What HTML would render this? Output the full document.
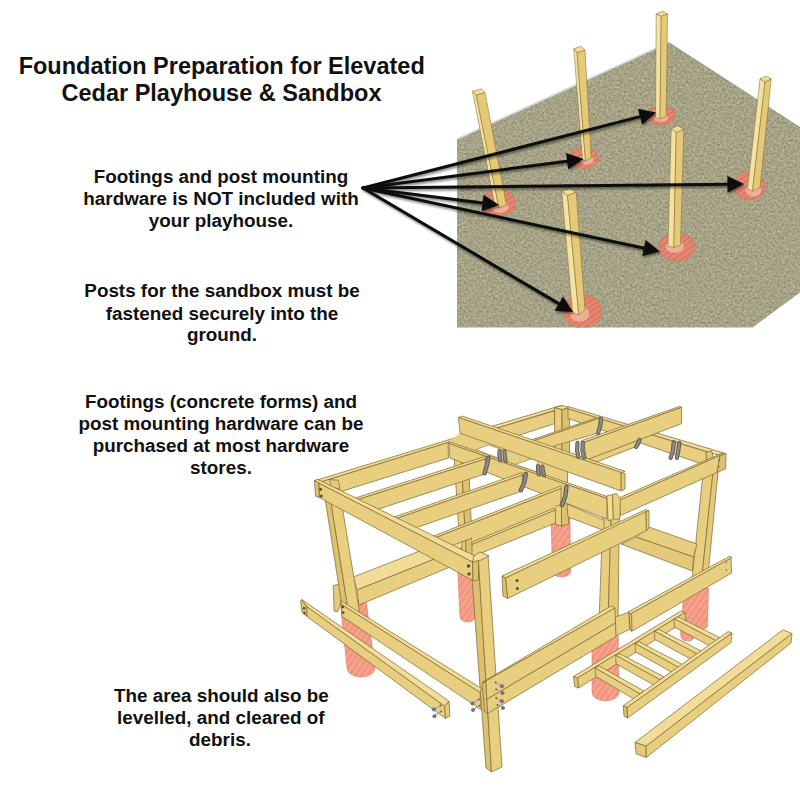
<!DOCTYPE html>
<html lang="en">
<head>
<meta charset="utf-8">
<title>Foundation Preparation for Elevated Cedar Playhouse &amp; Sandbox</title>
<style>
html,body{margin:0;padding:0;background:#fff;}
body{width:800px;height:800px;overflow:hidden;position:relative;font-family:"Liberation Sans",Arial,sans-serif;}
svg{position:absolute;left:0;top:0;display:block}
text{font-family:"Liberation Sans",Arial,sans-serif;font-weight:bold;fill:#111;}
.t{font-size:23.5px}
.b{font-size:18.85px}
</style>
</head>
<body>
<svg width="800" height="800" viewBox="0 0 800 800">
<defs>
<filter id="grain" x="0" y="0" width="100%" height="100%" color-interpolation-filters="sRGB">
<feTurbulence type="fractalNoise" baseFrequency="0.45" numOctaves="2" seed="7" result="n"/>
<feColorMatrix in="n" type="matrix" values="0.32 0 0 0 0.49  0.32 0 0 0 0.475  0.29 0 0 0 0.38  0 0 0 0 1" result="c"/>
<feComposite in="c" in2="SourceGraphic" operator="in"/>
</filter>
<pattern id="hatch" width="5" height="5" patternUnits="userSpaceOnUse" patternTransform="rotate(-55)">
<rect width="5" height="5" fill="#f2957e"/>
<rect width="5" height="1.4" fill="#f6ad9a"/>
</pattern>
<pattern id="hatch2" width="4.5" height="4.5" patternUnits="userSpaceOnUse" patternTransform="rotate(-35)">
<rect width="4.5" height="4.5" fill="#e48670"/>
<rect width="4.5" height="0.9" fill="#cc705b"/>
</pattern>
<clipPath id="gclip"><polygon points="457,139 668.7,42.5 800,127.5 800,292.5 752.5,327.5 457,327.5"/></clipPath>
<filter id="sh" x="-5%" y="-20%" width="110%" height="140%">
<feGaussianBlur in="SourceAlpha" stdDeviation="1.2"/>
<feOffset dx="0.5" dy="2"/>
<feComponentTransfer><feFuncA type="linear" slope="0.45"/></feComponentTransfer>
<feMerge><feMergeNode/><feMergeNode in="SourceGraphic"/></feMerge>
</filter>
</defs>
<polygon points="457,139 668.7,42.5 800,127.5 800,292.5 752.5,327.5 457,327.5" fill="#a6a283" filter="url(#grain)"/>
<polyline points="457,139 668.7,42.5" fill="none" stroke="#d6d6dc" stroke-width="1.6"/>
<polyline points="668.7,42.5 800,127.5" fill="none" stroke="#8f8b70" stroke-width="0.8"/>
<ellipse cx="661" cy="115.5" rx="14" ry="9.5" fill="url(#hatch2)" stroke="#d07560" stroke-width="0.7" clip-path="url(#gclip)"/>
<ellipse cx="661" cy="117.75" rx="7.0" ry="4.275" fill="#f4b8a6" opacity="0.8"/>
<polygon points="656.2,13.8 661.2,16.2 660.0,118.8 655.5,117.5" fill="#f3e2a2" stroke="#7d6630" stroke-width="0.5" stroke-linejoin="round" />
<polygon points="661.2,16.2 667.5,13.8 666.2,116.2 660.0,118.8" fill="#e6c976" stroke="#7d6630" stroke-width="0.5" stroke-linejoin="round" />
<polygon points="656.2,13.8 662.5,11.2 667.5,13.8 661.2,16.2" fill="#f0dd98" stroke="#7d6630" stroke-width="0.5" stroke-linejoin="round" />
<ellipse cx="584" cy="158" rx="14.5" ry="10.5" fill="url(#hatch2)" stroke="#d07560" stroke-width="0.7" clip-path="url(#gclip)"/>
<ellipse cx="586.5" cy="160" rx="7.25" ry="4.7250000000000005" fill="#f4b8a6" opacity="0.8"/>
<polygon points="573.8,48.8 577.0,52.5 585.5,161.0 582.5,160.0" fill="#f3e2a2" stroke="#7d6630" stroke-width="0.5" stroke-linejoin="round" />
<polygon points="577.0,52.5 585.0,50.0 591.2,158.0 585.5,161.0" fill="#e6c976" stroke="#7d6630" stroke-width="0.5" stroke-linejoin="round" />
<polygon points="573.8,48.8 581.2,46.2 585.0,50.0 577.0,52.5" fill="#f0dd98" stroke="#7d6630" stroke-width="0.5" stroke-linejoin="round" />
<ellipse cx="749.5" cy="186" rx="15.5" ry="14" fill="url(#hatch2)" stroke="#d07560" stroke-width="0.7" clip-path="url(#gclip)"/>
<ellipse cx="753.5" cy="190.25" rx="7.75" ry="6.3" fill="#f4b8a6" opacity="0.8"/>
<polygon points="760.0,78.8 765.0,82.0 752.5,191.2 747.5,188.8" fill="#f3e2a2" stroke="#7d6630" stroke-width="0.5" stroke-linejoin="round" />
<polygon points="765.0,82.0 771.2,78.8 760.0,187.5 752.5,191.2" fill="#e6c976" stroke="#7d6630" stroke-width="0.5" stroke-linejoin="round" />
<polygon points="760.0,78.8 766.2,76.2 771.2,78.8 765.0,82.0" fill="#f0dd98" stroke="#7d6630" stroke-width="0.5" stroke-linejoin="round" />
<ellipse cx="499" cy="203" rx="17" ry="13" fill="url(#hatch2)" stroke="#d07560" stroke-width="0.7" clip-path="url(#gclip)"/>
<ellipse cx="500" cy="207" rx="8.5" ry="5.8500000000000005" fill="#f4b8a6" opacity="0.8"/>
<polygon points="472.5,91.2 476.2,95.0 499.0,208.0 495.0,206.0" fill="#f3e2a2" stroke="#7d6630" stroke-width="0.5" stroke-linejoin="round" />
<polygon points="476.2,95.0 485.0,92.5 506.5,205.0 499.0,208.0" fill="#e6c976" stroke="#7d6630" stroke-width="0.5" stroke-linejoin="round" />
<polygon points="472.5,91.2 481.2,88.8 485.0,92.5 476.2,95.0" fill="#f0dd98" stroke="#7d6630" stroke-width="0.5" stroke-linejoin="round" />
<ellipse cx="677" cy="247" rx="18" ry="14" fill="url(#hatch2)" stroke="#d07560" stroke-width="0.7" clip-path="url(#gclip)"/>
<ellipse cx="674.75" cy="246.5" rx="9.0" ry="6.3" fill="#f4b8a6" opacity="0.8"/>
<polygon points="671.2,128.8 676.2,132.5 673.8,247.5 668.0,246.0" fill="#f3e2a2" stroke="#7d6630" stroke-width="0.5" stroke-linejoin="round" />
<polygon points="676.2,132.5 683.8,129.2 680.5,245.0 673.8,247.5" fill="#e6c976" stroke="#7d6630" stroke-width="0.5" stroke-linejoin="round" />
<polygon points="671.2,128.8 677.5,125.8 683.8,129.2 676.2,132.5" fill="#f0dd98" stroke="#7d6630" stroke-width="0.5" stroke-linejoin="round" />
<ellipse cx="582.8" cy="311.5" rx="19" ry="17" fill="url(#hatch2)" stroke="#d07560" stroke-width="0.7" clip-path="url(#gclip)"/>
<ellipse cx="579.75" cy="314" rx="9.5" ry="7.65" fill="#f4b8a6" opacity="0.8"/>
<polygon points="561.8,191.2 567.5,195.5 578.8,315.0 572.5,312.5" fill="#f3e2a2" stroke="#7d6630" stroke-width="0.5" stroke-linejoin="round" />
<polygon points="567.5,195.5 576.2,192.0 585.0,310.0 578.8,315.0" fill="#e6c976" stroke="#7d6630" stroke-width="0.5" stroke-linejoin="round" />
<polygon points="561.8,191.2 570.0,188.8 576.2,192.0 567.5,195.5" fill="#f0dd98" stroke="#7d6630" stroke-width="0.5" stroke-linejoin="round" />
<g filter="url(#sh)">
<line x1="363.0" y1="188.0" x2="642.0" y2="116.1" stroke="#0a0a0a" stroke-width="3" stroke-linecap="round"/>
<polygon points="656.0,112.5 642.1,124.6 638.0,108.7" fill="#0a0a0a"/>
<line x1="363.0" y1="188.0" x2="569.1" y2="160.9" stroke="#0a0a0a" stroke-width="3" stroke-linecap="round"/>
<polygon points="583.5,159.0 568.2,169.3 566.1,153.0" fill="#0a0a0a"/>
<line x1="363.0" y1="188.0" x2="729.5" y2="184.2" stroke="#0a0a0a" stroke-width="3" stroke-linecap="round"/>
<polygon points="744.0,184.0 727.6,192.4 727.4,176.0" fill="#0a0a0a"/>
<line x1="363.0" y1="188.0" x2="484.6" y2="203.2" stroke="#0a0a0a" stroke-width="3" stroke-linecap="round"/>
<polygon points="499.0,205.0 481.6,211.1 483.6,194.8" fill="#0a0a0a"/>
<line x1="363.0" y1="188.0" x2="645.8" y2="248.5" stroke="#0a0a0a" stroke-width="3" stroke-linecap="round"/>
<polygon points="660.0,251.5 642.2,256.1 645.6,240.0" fill="#0a0a0a"/>
<line x1="363.0" y1="188.0" x2="560.5" y2="304.6" stroke="#0a0a0a" stroke-width="3" stroke-linecap="round"/>
<polygon points="573.0,312.0 554.6,310.7 563.0,296.5" fill="#0a0a0a"/>
</g>
<path d="M340.0,600.0 L347.0,668.0 A14.0,9.0 0 0 0 375.0,668.0 L366.0,600.0 Z" fill="url(#hatch)" stroke="#df7661" stroke-width="0.6"/>
<path d="M457.5,565.0 L460.0,617.0 A7.5,5.0 0 0 0 475.0,617.0 L472.5,565.0 Z" fill="url(#hatch)" stroke="#df7661" stroke-width="0.6"/>
<path d="M551.0,518.0 L552.5,572.0 A9.0,5.0 0 0 0 570.5,572.0 L570.0,518.0 Z" fill="url(#hatch)" stroke="#df7661" stroke-width="0.6"/>
<path d="M592.0,625.0 L592.0,692.0 A13.5,9.0 0 0 0 619.0,692.0 L618.0,625.0 Z" fill="url(#hatch)" stroke="#df7661" stroke-width="0.6"/>
<path d="M683.5,588.0 L682.0,624.0 A12.8,6.0 0 0 0 707.5,626.0 L708.5,588.0 Z" fill="url(#hatch)" stroke="#df7661" stroke-width="0.6"/>
<path d="M680.0,625.0 L681.0,637.0 A6.5,4.0 0 0 0 694.0,637.0 L693.0,625.0 Z" fill="url(#hatch)" stroke="#df7661" stroke-width="0.6"/>
<polygon points="703.2,471.5 712.8,474.0 701.0,585.0 691.4,585.0" fill="#e8cf80" stroke="#7d6630" stroke-width="0.7" stroke-linejoin="round" />
<polygon points="712.8,474.0 718.2,470.5 707.0,585.0 701.0,585.0" fill="#e3c979" stroke="#7d6630" stroke-width="0.7" stroke-linejoin="round" />
<polygon points="649.0,527.0 697.0,544.0 693.6,557.0 636.0,537.0" fill="#e8cf80" stroke="#7d6630" stroke-width="0.7" stroke-linejoin="round" />
<polygon points="636.0,537.0 693.6,557.0 692.4,571.0 621.0,544.0" fill="#e3c979" stroke="#7d6630" stroke-width="0.7" stroke-linejoin="round" />
<polygon points="490.8,426.6 560.8,405.6 565.1,407.0 496.0,428.4" fill="#f1dd97" stroke="#7d6630" stroke-width="0.7" stroke-linejoin="round" />
<polygon points="496.0,428.4 554.6,410.9 554.6,423.6 517.0,435.9 496.0,435.9" fill="#e8cf80" stroke="#7d6630" stroke-width="0.7" stroke-linejoin="round" />
<polygon points="554.6,407.4 562.0,409.6 562.0,452.5 554.6,450.8" fill="#e8cf80" stroke="#7d6630" stroke-width="0.7" stroke-linejoin="round" />
<polygon points="562.0,409.6 569.5,407.4 569.5,452.5 562.0,452.5" fill="#dcc16f" stroke="#7d6630" stroke-width="0.7" stroke-linejoin="round" />
<polygon points="554.6,407.4 562.1,405.6 569.5,407.4 562.0,409.6" fill="#f1dd97" stroke="#7d6630" stroke-width="0.7" stroke-linejoin="round" />
<polygon points="568.0,406.5 724.0,453.0 718.5,455.2 568.0,408.8" fill="#f1dd97" stroke="#7d6630" stroke-width="0.7" stroke-linejoin="round" />
<polygon points="568.0,408.8 707.2,452.0 705.0,465.0 568.0,418.4" fill="#e8cf80" stroke="#7d6630" stroke-width="0.7" stroke-linejoin="round" />
<polygon points="705.9,452.5 711.6,450.8 713.4,457.8 706.9,460.4" fill="#e3c979" stroke="#7d6630" stroke-width="0.7" stroke-linejoin="round" />
<polygon points="529.2,440.6 600.0,416.6 599.4,418.2 530.0,442.0" fill="#f1dd97" stroke="#7d6630" stroke-width="0.7" stroke-linejoin="round" />
<polygon points="530.0,442.0 599.4,418.2 598.0,433.0 538.0,450.8" fill="#e8cf80" stroke="#7d6630" stroke-width="0.7" stroke-linejoin="round" />
<polygon points="586.2,459.5 637.0,440.6 637.9,445.9 597.6,461.6" fill="#e8cf80" stroke="#7d6630" stroke-width="0.7" stroke-linejoin="round" />
<polygon points="581.9,440.6 679.9,406.3 681.6,407.4 583.6,442.5" fill="#f1dd97" stroke="#7d6630" stroke-width="0.7" stroke-linejoin="round" />
<polygon points="583.6,442.5 681.6,407.4 681.6,423.6 586.6,459.9" fill="#e8cf80" stroke="#7d6630" stroke-width="0.7" stroke-linejoin="round" />
<polygon points="617.5,498.5 722.5,453.0 726.0,453.8 720.0,455.5 619.0,500.5" fill="#f1dd97" stroke="#7d6630" stroke-width="0.7" stroke-linejoin="round" />
<polygon points="619.0,500.5 720.0,455.5 717.0,472.5 620.5,515.5" fill="#e8cf80" stroke="#7d6630" stroke-width="0.7" stroke-linejoin="round" />
<polygon points="720.0,455.5 726.0,453.8 725.6,468.8 717.0,472.5" fill="#dcc16f" stroke="#7d6630" stroke-width="0.7" stroke-linejoin="round" />
<circle cx="719.2" cy="460.0" r="0.8" fill="#6b5a3a"/>
<circle cx="718.8" cy="467.0" r="0.8" fill="#6b5a3a"/>
<polygon points="453.0,440.0 460.3,440.0 467.2,572.0 461.5,572.0" fill="#e8cf80" stroke="#7d6630" stroke-width="0.7" stroke-linejoin="round" />
<polygon points="460.3,440.0 467.5,440.0 473.5,572.0 467.2,572.0" fill="#dcc16f" stroke="#7d6630" stroke-width="0.7" stroke-linejoin="round" />
<polygon points="554.6,490.0 561.5,492.0 561.5,526.0 555.0,524.0" fill="#e8cf80" stroke="#7d6630" stroke-width="0.7" stroke-linejoin="round" />
<polygon points="561.5,492.0 569.5,490.0 568.5,524.0 561.5,526.0" fill="#dcc16f" stroke="#7d6630" stroke-width="0.7" stroke-linejoin="round" />
<polygon points="603.5,500.0 611.5,502.0 608.0,625.0 599.0,622.0" fill="#e8cf80" stroke="#7d6630" stroke-width="0.7" stroke-linejoin="round" />
<polygon points="611.5,502.0 619.5,500.0 618.0,625.0 608.0,625.0" fill="#e3c979" stroke="#7d6630" stroke-width="0.7" stroke-linejoin="round" />
<polygon points="333.2,585.6 341.1,583.4 342.0,598.8 337.6,611.9 334.1,611.0" fill="#e3c979" stroke="#7d6630" stroke-width="0.7" stroke-linejoin="round" />
<polygon points="353.4,577.0 462.0,534.5 462.0,548.0 357.0,590.0" fill="#f1dd97" stroke="#7d6630" stroke-width="0.7" stroke-linejoin="round" />
<polygon points="357.0,590.0 462.0,548.0 462.0,562.0 359.0,605.0" fill="#e8cf80" stroke="#7d6630" stroke-width="0.7" stroke-linejoin="round" />
<polygon points="325.2,499.5 331.0,502.6 347.5,606.0 341.5,603.0" fill="#dcc16f" stroke="#7d6630" stroke-width="0.7" stroke-linejoin="round" />
<polygon points="331.0,502.6 342.7,509.5 360.0,615.0 347.5,606.0" fill="#e8cf80" stroke="#7d6630" stroke-width="0.7" stroke-linejoin="round" />
<polygon points="315.0,480.6 461.0,436.0 462.5,438.0 319.0,482.5" fill="#f1dd97" stroke="#7d6630" stroke-width="0.7" stroke-linejoin="round" />
<polygon points="319.0,482.5 448.0,442.5 448.5,458.0 343.8,490.6 325.0,497.0" fill="#e8cf80" stroke="#7d6630" stroke-width="0.7" stroke-linejoin="round" />
<polygon points="329.5,479.5 338.5,480.3 340.0,489.0 331.0,487.0" fill="#e3c979" stroke="#7d6630" stroke-width="0.7" stroke-linejoin="round" />
<polygon points="567.0,504.0 604.0,520.0 604.0,530.5 568.0,517.0" fill="#e8cf80" stroke="#7d6630" stroke-width="0.7" stroke-linejoin="round" />
<polygon points="448.8,441.5 460.1,433.2 567.5,471.8 567.5,483.0" fill="#e8cf80" stroke="none" stroke-width="0.7" stroke-linejoin="round" />
<polyline points="567.5,471.8 567.5,483.0" fill="none" stroke="#7d6630" stroke-width="0.7" stroke-linecap="round" />
<polygon points="476.0,449.5 489.0,445.0 501.0,449.5 499.5,458.5" fill="#ffffff" stroke="#7d6630" stroke-width="0.5" stroke-linejoin="round" />
<polygon points="515.0,464.5 532.0,458.8 537.5,460.8 536.5,472.0" fill="#ffffff" stroke="#7d6630" stroke-width="0.5" stroke-linejoin="round" />
<polygon points="458.4,417.5 462.4,416.1 625.1,471.4 621.2,472.6" fill="#f1dd97" stroke="#7d6630" stroke-width="0.7" stroke-linejoin="round" />
<polygon points="458.4,417.5 621.2,472.6 621.2,491.0 460.1,433.2" fill="#e8cf80" stroke="#7d6630" stroke-width="0.7" stroke-linejoin="round" />
<polygon points="621.2,472.6 625.0,473.5 625.0,489.0 621.2,491.0" fill="#e3c979" stroke="#7d6630" stroke-width="0.7" stroke-linejoin="round" />
<polygon points="448.8,441.5 607.0,496.5 607.0,498.5 448.8,443.5" fill="#f1dd97" stroke="#7d6630" stroke-width="0.7" stroke-linejoin="round" />
<polygon points="448.8,443.5 607.0,498.5 607.0,519.0 450.0,458.0" fill="#e8cf80" stroke="#7d6630" stroke-width="0.7" stroke-linejoin="round" />
<polygon points="606.9,495.9 612.5,494.5 613.4,519.0 608.1,520.8" fill="#f1dd97" stroke="#7d6630" stroke-width="0.7" stroke-linejoin="round" />
<polygon points="612.5,494.5 616.4,493.6 620.4,498.9 619.9,519.0 613.4,519.0" fill="#e8cf80" stroke="#7d6630" stroke-width="0.7" stroke-linejoin="round" />
<polygon points="340.2,502.8 485.0,456.5 485.5,458.9 343.0,504.3" fill="#f1dd97" stroke="#7d6630" stroke-width="0.7" stroke-linejoin="round" />
<polygon points="343.0,504.3 485.5,458.9 485.0,473.9 362.8,514.3" fill="#e8cf80" stroke="#7d6630" stroke-width="0.7" stroke-linejoin="round" />
<polygon points="378.6,522.4 522.0,472.6 522.5,475.0 381.3,523.8" fill="#f1dd97" stroke="#7d6630" stroke-width="0.7" stroke-linejoin="round" />
<polygon points="381.3,523.8 522.5,475.0 522.0,491.0 400.0,533.3" fill="#e8cf80" stroke="#7d6630" stroke-width="0.7" stroke-linejoin="round" />
<polygon points="417.6,542.3 560.8,486.0 561.2,488.4 420.3,543.7" fill="#f1dd97" stroke="#7d6630" stroke-width="0.7" stroke-linejoin="round" />
<polygon points="420.3,543.7 561.2,488.4 560.8,504.4 436.0,551.6" fill="#e8cf80" stroke="#7d6630" stroke-width="0.7" stroke-linejoin="round" />
<polygon points="472.0,535.7 555.5,502.0 555.5,510.0 472.0,543.7" fill="#e8cf80" stroke="none" stroke-width="0.7" stroke-linejoin="round" />
<polygon points="472.0,542.2 554.5,508.0 555.5,510.0 472.0,544.5" fill="#f1dd97" stroke="#7d6630" stroke-width="0.7" stroke-linejoin="round" />
<polygon points="472.0,544.5 555.5,510.0 555.5,523.0 485.0,551.5 472.0,557.0" fill="#e8cf80" stroke="#7d6630" stroke-width="0.7" stroke-linejoin="round" />
<polyline points="488.5,457.8 486.9,464.8 484.6,473.1" fill="none" stroke="#5e5b55" stroke-width="4.5" stroke-linecap="round" />
<polyline points="488.5,457.8 486.9,464.8 484.6,473.1" fill="none" stroke="#8f8c85" stroke-width="2.4000000000000004" stroke-linecap="round" />
<polyline points="525.8,473.9 524.4,482.2 520.9,490.1" fill="none" stroke="#5e5b55" stroke-width="4.5" stroke-linecap="round" />
<polyline points="525.8,473.9 524.4,482.2 520.9,490.1" fill="none" stroke="#8f8c85" stroke-width="2.4000000000000004" stroke-linecap="round" />
<polyline points="566.4,487.0 565.3,496.2 562.0,505.0" fill="none" stroke="#5e5b55" stroke-width="4.5" stroke-linecap="round" />
<polyline points="566.4,487.0 565.3,496.2 562.0,505.0" fill="none" stroke="#8f8c85" stroke-width="2.4000000000000004" stroke-linecap="round" />
<polyline points="601.1,419.2 600.2,426.2 598.1,432.9" fill="none" stroke="#5e5b55" stroke-width="4.199999999999999" stroke-linecap="round" />
<polyline points="601.1,419.2 600.2,426.2 598.1,432.9" fill="none" stroke="#8f8c85" stroke-width="2.2399999999999998" stroke-linecap="round" />
<polyline points="577.5,442.9 577.1,450.8 578.4,456.9" fill="none" stroke="#5e5b55" stroke-width="4.199999999999999" stroke-linecap="round" />
<polyline points="577.5,442.9 577.1,450.8 578.4,456.9" fill="none" stroke="#8f8c85" stroke-width="2.2399999999999998" stroke-linecap="round" />
<polyline points="582.8,442.9 582.4,450.8 584.1,457.4" fill="none" stroke="#5e5b55" stroke-width="4.199999999999999" stroke-linecap="round" />
<polyline points="582.8,442.9 582.4,450.8 584.1,457.4" fill="none" stroke="#8f8c85" stroke-width="2.2399999999999998" stroke-linecap="round" />
<polyline points="639.6,439.9 637.9,443.8 636.1,446.9" fill="none" stroke="#5e5b55" stroke-width="4.199999999999999" stroke-linecap="round" />
<polyline points="639.6,439.9 637.9,443.8 636.1,446.9" fill="none" stroke="#8f8c85" stroke-width="2.2399999999999998" stroke-linecap="round" />
<polyline points="673.8,442.0 672.9,450.8 670.6,457.8" fill="none" stroke="#5e5b55" stroke-width="4.199999999999999" stroke-linecap="round" />
<polyline points="673.8,442.0 672.9,450.8 670.6,457.8" fill="none" stroke="#8f8c85" stroke-width="2.2399999999999998" stroke-linecap="round" />
<polyline points="679.4,442.9 678.3,450.8 676.9,457.8" fill="none" stroke="#5e5b55" stroke-width="4.199999999999999" stroke-linecap="round" />
<polyline points="679.4,442.9 678.3,450.8 676.9,457.8" fill="none" stroke="#8f8c85" stroke-width="2.2399999999999998" stroke-linecap="round" />
<polyline points="499.5,451.1 499.5,456.0 500.4,460.4" fill="none" stroke="#5e5b55" stroke-width="4.199999999999999" stroke-linecap="round" />
<polyline points="499.5,451.1 499.5,456.0 500.4,460.4" fill="none" stroke="#8f8c85" stroke-width="2.2399999999999998" stroke-linecap="round" />
<polyline points="504.4,451.1 504.8,456.0 505.6,460.9" fill="none" stroke="#5e5b55" stroke-width="4.199999999999999" stroke-linecap="round" />
<polyline points="504.4,451.1 504.8,456.0 505.6,460.9" fill="none" stroke="#8f8c85" stroke-width="2.2399999999999998" stroke-linecap="round" />
<polyline points="538.0,466.1 538.0,470.0 538.9,474.4" fill="none" stroke="#5e5b55" stroke-width="4.199999999999999" stroke-linecap="round" />
<polyline points="538.0,466.1 538.0,470.0 538.9,474.4" fill="none" stroke="#8f8c85" stroke-width="2.2399999999999998" stroke-linecap="round" />
<polyline points="542.4,466.5 542.9,470.9 544.1,475.2" fill="none" stroke="#5e5b55" stroke-width="4.199999999999999" stroke-linecap="round" />
<polyline points="542.4,466.5 542.9,470.9 544.1,475.2" fill="none" stroke="#8f8c85" stroke-width="2.2399999999999998" stroke-linecap="round" />
<polygon points="472.0,578.0 478.5,561.0 491.5,772.0 486.0,768.0" fill="#dcc16f" stroke="#7d6630" stroke-width="0.7" stroke-linejoin="round" />
<polygon points="478.5,561.0 488.0,555.0 502.0,767.0 491.5,772.0" fill="#e8cf80" stroke="#7d6630" stroke-width="0.7" stroke-linejoin="round" />
<polygon points="471.0,557.5 480.0,552.0 489.0,556.0 479.0,561.0 472.5,562.3" fill="#f1dd97" stroke="#7d6630" stroke-width="0.7" stroke-linejoin="round" />
<polygon points="314.4,480.6 317.5,479.3 474.0,555.5 472.5,562.0 318.8,483.2" fill="#f1dd97" stroke="#7d6630" stroke-width="0.7" stroke-linejoin="round" />
<polygon points="318.8,483.2 472.5,562.0 473.0,580.5 319.4,497.5" fill="#e8cf80" stroke="#7d6630" stroke-width="0.7" stroke-linejoin="round" />
<polygon points="314.4,480.6 318.8,482.5 319.4,497.5 315.6,496.2" fill="#dcc16f" stroke="#7d6630" stroke-width="0.7" stroke-linejoin="round" />
<polygon points="472.5,562.0 478.5,560.5 478.5,580.0 473.0,581.0" fill="#dcc16f" stroke="#7d6630" stroke-width="0.7" stroke-linejoin="round" />
<circle cx="320.6" cy="489.3" r="1.5" fill="#5a4a30"/>
<circle cx="321.3" cy="496.0" r="1.5" fill="#5a4a30"/>
<circle cx="468.5" cy="566.0" r="1.7" fill="#5a4a30"/>
<circle cx="469.0" cy="574.0" r="1.7" fill="#5a4a30"/>
<polygon points="502.0,576.0 646.0,509.5 649.0,511.0 505.5,578.0" fill="#f1dd97" stroke="#7d6630" stroke-width="0.7" stroke-linejoin="round" />
<polygon points="505.5,578.0 646.0,511.5 646.5,530.5 507.5,598.5" fill="#e8cf80" stroke="#7d6630" stroke-width="0.7" stroke-linejoin="round" />
<polygon points="502.0,576.0 505.5,578.0 507.5,598.5 503.0,596.0" fill="#dcc16f" stroke="#7d6630" stroke-width="0.7" stroke-linejoin="round" />
<polygon points="646.0,511.5 649.0,510.5 649.0,528.0 646.5,530.5" fill="#e3c979" stroke="#7d6630" stroke-width="0.7" stroke-linejoin="round" />
<circle cx="517.0" cy="580.5" r="1.5" fill="#5a4a30"/>
<circle cx="517.3" cy="588.5" r="1.5" fill="#5a4a30"/>
<polygon points="615.0,617.0 629.0,612.3 629.5,629.5 615.5,636.0" fill="#e8cf80" stroke="#7d6630" stroke-width="0.7" stroke-linejoin="round" />
<polygon points="482.3,682.3 485.8,681.0 615.0,608.0 611.5,605.8" fill="#f1dd97" stroke="#7d6630" stroke-width="0.7" stroke-linejoin="round" />
<polygon points="485.8,681.0 615.0,608.0 615.5,623.0 486.6,699.5" fill="#e8cf80" stroke="#7d6630" stroke-width="0.7" stroke-linejoin="round" />
<polygon points="486.6,699.5 615.5,623.0 616.0,636.5 487.5,713.5" fill="#e8cf80" stroke="#7d6630" stroke-width="0.7" stroke-linejoin="round" />
<polygon points="482.2,683.8 485.8,681.6 487.5,713.5 484.5,711.5" fill="#dcc16f" stroke="#7d6630" stroke-width="0.7" stroke-linejoin="round" />
<line x1="501.9" y1="686.2" x2="495.6" y2="682.5" stroke="#a9a3b8" stroke-width="1.3" stroke-linecap="round"/>
<circle cx="501.9" cy="686.2" r="1.7" fill="#77728c" stroke="#4f4b60" stroke-width="0.4"/>
<circle cx="495.6" cy="682.5" r="0.9" fill="#6a5a3a"/>
<line x1="502.5" y1="693.0" x2="496.2" y2="689.4" stroke="#a9a3b8" stroke-width="1.3" stroke-linecap="round"/>
<circle cx="502.5" cy="693.0" r="1.7" fill="#77728c" stroke="#4f4b60" stroke-width="0.4"/>
<circle cx="496.2" cy="689.4" r="0.9" fill="#6a5a3a"/>
<line x1="501.9" y1="701.2" x2="496.2" y2="698.0" stroke="#a9a3b8" stroke-width="1.3" stroke-linecap="round"/>
<circle cx="501.9" cy="701.2" r="1.7" fill="#77728c" stroke="#4f4b60" stroke-width="0.4"/>
<circle cx="496.2" cy="698.0" r="0.9" fill="#6a5a3a"/>
<line x1="503.0" y1="708.0" x2="497.5" y2="705.0" stroke="#a9a3b8" stroke-width="1.3" stroke-linecap="round"/>
<circle cx="503.0" cy="708.0" r="1.7" fill="#77728c" stroke="#4f4b60" stroke-width="0.4"/>
<circle cx="497.5" cy="705.0" r="0.9" fill="#6a5a3a"/>
<polygon points="340.6,600.6 481.5,688.5 480.0,692.5 341.3,604.3" fill="#f1dd97" stroke="#7d6630" stroke-width="0.7" stroke-linejoin="round" />
<polygon points="341.3,604.3 480.0,692.5 481.0,709.5 342.0,616.5" fill="#e8cf80" stroke="#7d6630" stroke-width="0.7" stroke-linejoin="round" />
<circle cx="342.7" cy="607.0" r="1.3" fill="#5a4030"/>
<circle cx="343.2" cy="612.5" r="1.3" fill="#5a4030"/>
<line x1="472.5" y1="703.5" x2="478.8" y2="699.4" stroke="#a9a3b8" stroke-width="1.3" stroke-linecap="round"/>
<circle cx="472.5" cy="703.5" r="1.7" fill="#77728c" stroke="#4f4b60" stroke-width="0.4"/>
<circle cx="478.8" cy="699.4" r="0.9" fill="#6a5a3a"/>
<line x1="473.0" y1="710.0" x2="479.4" y2="705.6" stroke="#a9a3b8" stroke-width="1.3" stroke-linecap="round"/>
<circle cx="473.0" cy="710.0" r="1.7" fill="#77728c" stroke="#4f4b60" stroke-width="0.4"/>
<circle cx="479.4" cy="705.6" r="0.9" fill="#6a5a3a"/>
<polygon points="628.0,612.0 730.0,556.0 732.0,557.5 630.5,614.0" fill="#f1dd97" stroke="#7d6630" stroke-width="0.7" stroke-linejoin="round" />
<polygon points="630.5,614.0 731.0,558.0 731.5,573.0 631.5,631.5" fill="#e8cf80" stroke="#7d6630" stroke-width="0.7" stroke-linejoin="round" />
<polygon points="629.0,613.0 631.6,614.4 632.0,631.0 630.0,630.0" fill="#dcc16f" stroke="#7d6630" stroke-width="0.7" stroke-linejoin="round" />
<circle cx="726.3" cy="562.5" r="0.8" fill="#6b5a3a"/>
<circle cx="726.3" cy="570.0" r="0.8" fill="#6b5a3a"/>
<polygon points="301.8,599.6 449.0,701.2 444.6,706.2 306.5,606.5" fill="#f1dd97" stroke="#7d6630" stroke-width="0.7" stroke-linejoin="round" />
<polygon points="306.5,606.5 444.6,706.2 445.5,718.5 307.0,616.5" fill="#e8cf80" stroke="#7d6630" stroke-width="0.7" stroke-linejoin="round" />
<polygon points="300.5,601.0 301.8,599.6 306.5,606.5 307.0,616.5 302.0,612.5" fill="#dcc16f" stroke="#7d6630" stroke-width="0.7" stroke-linejoin="round" />
<polygon points="444.6,706.2 449.0,701.2 449.9,716.0 445.5,718.5" fill="#e3c979" stroke="#7d6630" stroke-width="0.7" stroke-linejoin="round" />
<circle cx="304.0" cy="608.3" r="1.2" fill="#5a4030"/>
<circle cx="304.5" cy="613.0" r="1.2" fill="#5a4030"/>
<line x1="433.8" y1="709.4" x2="440.6" y2="705.5" stroke="#a9a3b8" stroke-width="1.3" stroke-linecap="round"/>
<circle cx="433.8" cy="709.4" r="1.7" fill="#77728c" stroke="#4f4b60" stroke-width="0.4"/>
<circle cx="440.6" cy="705.5" r="0.9" fill="#6a5a3a"/>
<line x1="434.4" y1="716.2" x2="441.2" y2="711.5" stroke="#a9a3b8" stroke-width="1.3" stroke-linecap="round"/>
<circle cx="434.4" cy="716.2" r="1.7" fill="#77728c" stroke="#4f4b60" stroke-width="0.4"/>
<circle cx="441.2" cy="711.5" r="0.9" fill="#6a5a3a"/>
<polygon points="635.0,742.5 783.0,629.8 792.0,633.5 646.2,746.2" fill="#f1dd97" stroke="#7d6630" stroke-width="0.7" stroke-linejoin="round" />
<polygon points="635.0,742.5 646.2,746.2 646.2,757.5 636.2,753.8" fill="#e3c979" stroke="#7d6630" stroke-width="0.7" stroke-linejoin="round" />
<polygon points="646.2,746.2 792.0,633.5 791.0,643.0 646.2,757.5" fill="#e8cf80" stroke="#7d6630" stroke-width="0.7" stroke-linejoin="round" />
<polygon points="573.5,676.5 681.0,611.0 685.0,612.5 577.5,678.0" fill="#f1dd97" stroke="#7d6630" stroke-width="0.7" stroke-linejoin="round" />
<polygon points="577.5,678.0 685.0,612.5 685.5,621.0 578.5,688.0" fill="#e8cf80" stroke="#7d6630" stroke-width="0.7" stroke-linejoin="round" />
<polygon points="573.5,676.5 577.5,678.0 578.5,688.0 574.5,686.5" fill="#dcc16f" stroke="#7d6630" stroke-width="0.7" stroke-linejoin="round" />
<polygon points="674.0,618.5 716.0,640.5 714.5,648.5 674.5,627.0" fill="#e8cf80" stroke="#7d6630" stroke-width="0.7" stroke-linejoin="round" />
<polygon points="674.0,618.5 678.4,617.0 719.5,637.5 716.0,640.5" fill="#f1dd97" stroke="#7d6630" stroke-width="0.7" stroke-linejoin="round" />
<polygon points="654.4,630.9 697.4,653.9 695.9,661.9 654.9,639.4" fill="#e8cf80" stroke="#7d6630" stroke-width="0.7" stroke-linejoin="round" />
<polygon points="654.4,630.9 658.8,629.4 700.9,650.9 697.4,653.9" fill="#f1dd97" stroke="#7d6630" stroke-width="0.7" stroke-linejoin="round" />
<polygon points="635.0,643.4 679.0,667.4 677.5,675.4 635.5,651.9" fill="#e8cf80" stroke="#7d6630" stroke-width="0.7" stroke-linejoin="round" />
<polygon points="635.0,643.4 639.4,641.9 682.5,664.4 679.0,667.4" fill="#f1dd97" stroke="#7d6630" stroke-width="0.7" stroke-linejoin="round" />
<polygon points="615.6,655.2 660.0,679.6 658.5,687.6 616.1,663.8" fill="#e8cf80" stroke="#7d6630" stroke-width="0.7" stroke-linejoin="round" />
<polygon points="615.6,655.2 620.0,653.8 663.5,676.6 660.0,679.6" fill="#f1dd97" stroke="#7d6630" stroke-width="0.7" stroke-linejoin="round" />
<polygon points="595.0,667.8 640.0,693.8 638.5,701.8 595.5,676.2" fill="#e8cf80" stroke="#7d6630" stroke-width="0.7" stroke-linejoin="round" />
<polygon points="595.0,667.8 599.4,666.2 643.5,690.8 640.0,693.8" fill="#f1dd97" stroke="#7d6630" stroke-width="0.7" stroke-linejoin="round" />
<polygon points="623.2,705.8 728.2,631.5 732.0,633.0 627.0,707.5" fill="#f1dd97" stroke="#7d6630" stroke-width="0.7" stroke-linejoin="round" />
<polygon points="627.0,707.5 732.0,633.0 731.0,642.5 627.6,718.0" fill="#e8cf80" stroke="#7d6630" stroke-width="0.7" stroke-linejoin="round" />
<polygon points="623.2,705.8 627.0,707.5 627.6,718.0 624.0,716.0" fill="#dcc16f" stroke="#7d6630" stroke-width="0.7" stroke-linejoin="round" />
<g text-anchor="middle">
<text class="t" x="221.7" y="73.7">Foundation Preparation for Elevated</text>
<text class="t" x="221.5" y="100.8">Cedar Playhouse &amp; Sandbox</text>
<text class="b" x="221" y="183">Footings and post mounting</text>
<text class="b" x="221" y="205">hardware is NOT included with</text>
<text class="b" x="221" y="227">your playhouse.</text>
<text class="b" x="222" y="297">Posts for the sandbox must be</text>
<text class="b" x="222" y="319.5">fastened securely into the</text>
<text class="b" x="222" y="341">ground.</text>
<text class="b" x="221" y="408">Footings (concrete forms) and</text>
<text class="b" x="221" y="430">post mounting hardware can be</text>
<text class="b" x="221" y="452">purchased at most hardware</text>
<text class="b" x="221" y="474">stores.</text>
<text class="b" x="221.3" y="702.3">The area should also be</text>
<text class="b" x="220.8" y="723.8">levelled, and cleared of</text>
<text class="b" x="220" y="745.6">debris.</text>
</g>
</svg>
</body>
</html>
